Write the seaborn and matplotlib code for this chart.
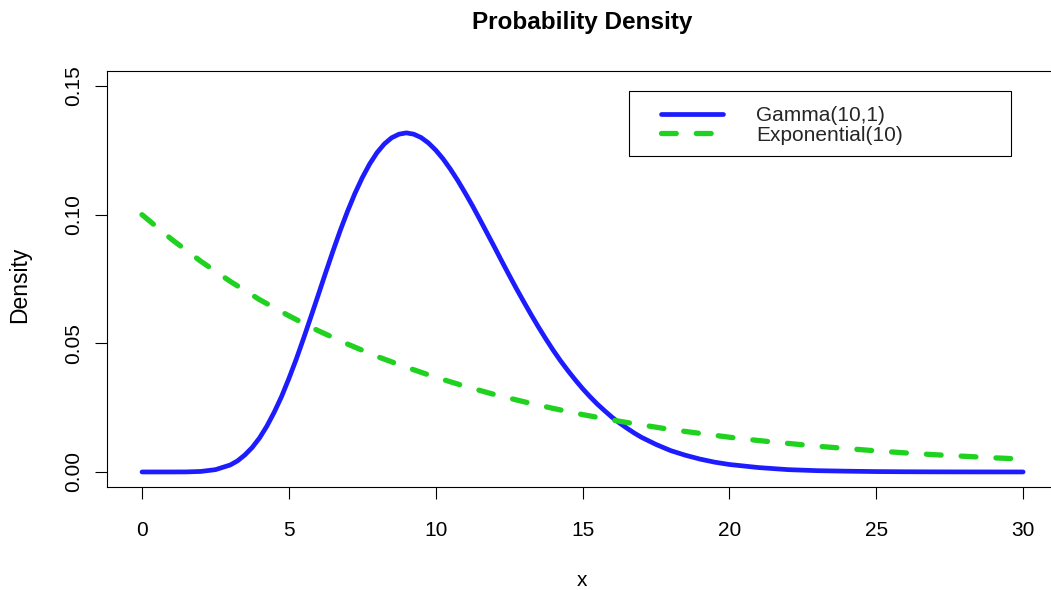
import matplotlib
matplotlib.use("Agg")
import matplotlib.pyplot as plt
from matplotlib.patches import Rectangle
import seaborn as sns
import pandas as pd

# Gamma(10,1) density, sampled along x (denser where the curve bends most)
gamma_x = [0, 0.5, 1, 1.5, 2, 2.5, 3, 3.25, 3.5, 3.75, 4, 4.25, 4.5, 4.75, 5,
           5.25, 5.5, 5.75, 6, 6.25, 6.5, 6.75, 7, 7.25, 7.5, 7.75, 8, 8.25,
           8.5, 8.75, 9, 9.25, 9.5, 9.75, 10, 10.25, 10.5, 10.75, 11, 11.25,
           11.5, 11.75, 12, 12.25, 12.5, 12.75, 13, 13.25, 13.5, 13.75, 14,
           14.25, 14.5, 14.75, 15, 15.25, 15.5, 15.75, 16, 16.25, 16.5, 16.75,
           17, 17.5, 18, 18.5, 19, 19.5, 20, 21, 22, 23, 24, 25, 26, 27, 28,
           29, 30]
gamma_y = [0.0, 0.0, 0.000001, 0.00002, 0.0002, 0.0009, 0.0027, 0.0043,
           0.0066, 0.0095, 0.0132, 0.0178, 0.0232, 0.0293, 0.0363, 0.0438,
           0.0519, 0.0603, 0.0688, 0.0774, 0.0858, 0.0939, 0.1014, 0.1083,
           0.1144, 0.1197, 0.1241, 0.1275, 0.1299, 0.1313, 0.1318, 0.1313,
           0.1300, 0.1279, 0.1251, 0.1217, 0.1177, 0.1133, 0.1085, 0.1035,
           0.0982, 0.0928, 0.0874, 0.0819, 0.0765, 0.0712, 0.0661, 0.0611,
           0.0563, 0.0517, 0.0473, 0.0432, 0.0394, 0.0358, 0.0324, 0.0293,
           0.0264, 0.0238, 0.0213, 0.0191, 0.0171, 0.0152, 0.0135, 0.0107,
           0.0083, 0.0065, 0.0050, 0.0038, 0.0029, 0.0017, 0.0009, 0.0005,
           0.0003, 0.00015, 0.00008, 0.00004, 0.00002, 0.00001, 0.000005]

# Exponential density with mean 10
exp_x = list(range(0, 31))
exp_y = [0.1000, 0.0905, 0.0819, 0.0741, 0.0670, 0.0607, 0.0549, 0.0497, 0.0449,
         0.0407, 0.0368, 0.0333, 0.0301, 0.0273, 0.0247, 0.0223, 0.0202, 0.0183,
         0.0165, 0.0150, 0.0135, 0.0122, 0.0111, 0.0100, 0.0091, 0.0082, 0.0074,
         0.0067, 0.0061, 0.0055, 0.0050]

series_labels = ["Gamma(10,1)", "Exponential(10)"]
x_ticks = [0, 5, 10, 15, 20, 25, 30]
y_ticks = [0.00, 0.05, 0.10, 0.15]
y_tick_labels = ["0.00", "0.05", "0.10", "0.15"]

BLUE = "#1c1cff"
GREEN = "#1fd21f"

sns.set_theme(style="ticks")
plt.rcParams["font.family"] = ["Liberation Sans", "DejaVu Sans"]

fig = plt.figure(figsize=(10.51, 5.90), dpi=100)
ax = fig.add_axes([0.1016, 0.1739, 0.9054, 0.7064])

gamma_df = pd.DataFrame({"x": gamma_x, "density": gamma_y})
exp_df = pd.DataFrame({"x": exp_x, "density": exp_y})

sns.lineplot(data=gamma_df, x="x", y="density", ax=ax, color=BLUE,
             linewidth=3.4, solid_capstyle="round", solid_joinstyle="round",
             label=series_labels[0])
sns.lineplot(data=exp_df, x="x", y="density", ax=ax, color=GREEN,
             linewidth=3.8, linestyle=(0, (2.8, 3.8)), dash_capstyle="round",
             label=series_labels[1])

ax.set_xlim(-1.2, 31.2)
ax.set_ylim(-0.006, 0.156)
ax.set_xticks(x_ticks)
ax.set_xticklabels([str(t) for t in x_ticks])
ax.set_yticks(y_ticks)
ax.set_yticklabels(y_tick_labels)

for side in ["left", "right", "top", "bottom"]:
    ax.spines[side].set_visible(True)
    ax.spines[side].set_color("black")
    ax.spines[side].set_linewidth(0.8)

ax.tick_params(axis="both", direction="out", length=8.6, width=0.8,
               color="black", labelcolor="black", labelsize=15)
ax.tick_params(axis="x", bottom=True, pad=15.8)
ax.tick_params(axis="y", left=True, pad=8.4, labelrotation=90)
for lbl in ax.get_yticklabels():
    lbl.set_va("center")

ax.set_title("Probability Density", fontsize=17.5, fontweight="bold",
             color="black", pad=30.2)

ax.set_xlabel("x", fontsize=15, color="black")
ax.xaxis.label.set_va("baseline")
ax.xaxis.set_label_coords(0.4994, -0.236)

ax.set_ylabel("Density", fontsize=16.5, color="black")
ax.yaxis.label.set_va("center")
ax.yaxis.set_label_coords(-0.0915, 0.4856)

handles, labels = ax.get_legend_handles_labels()
ax.legend(handles, labels, loc="upper left", bbox_to_anchor=(0.5819, 0.9153),
          borderpad=0, borderaxespad=0, frameon=False, fontsize=15,
          handlelength=3.02, handletextpad=1.56, labelspacing=0.04)
ax.add_patch(Rectangle((0.5488, 0.7951), 0.4014, 0.156, transform=ax.transAxes,
                       fill=False, edgecolor="black", linewidth=0.8, zorder=5))

fig.savefig("out.png", dpi=100)
